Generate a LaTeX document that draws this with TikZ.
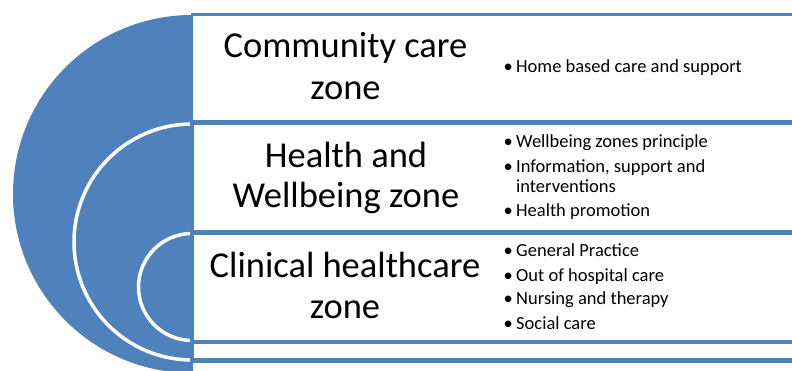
\documentclass[tikz,border=0pt]{standalone}
\usepackage{fontspec}
\setmainfont{Carlito}
\definecolor{zblue}{HTML}{4F81BD}
\begin{document}
\begin{tikzpicture}[x=1pt,y=-1pt,
  zoneframe/.style={draw=zblue,fill=white},
  ring/.style={draw=white,line width=3.5pt,fill=zblue},
  title/.style={anchor=base,inner sep=0pt,font=\fontsize{36.5}{41}\selectfont},
  item/.style={anchor=base west,inner sep=0pt,font=\fontsize{18.5}{21}\selectfont},
  dot/.style={anchor=base west,inner sep=0pt,font=\fontsize{18.5}{21}\selectfont}]
\useasboundingbox (0,0) rectangle (792,371);
\clip (0,0) rectangle (792,371);
% outer zone
\fill[zblue] (192,194) circle[radius=179];
\draw[zoneframe,line width=2.5pt] (192,14.5) rectangle (810,400);
% middle zone
\draw[ring] (192,242) circle[radius=118];
\draw[zoneframe,line width=4.5pt] (192,122.5) rectangle (810,360.5);
% inner zone
\draw[ring] (192,287) circle[radius=53.5];
\draw[zoneframe,line width=4.5pt] (192,232.5) rectangle (810,342);
% titles
\node[title] (c1) at (345.5,58) {Community care};
\node[title] (c2) at (345.5,100) {zone};
\node[title] (h1) at (346,168) {Health and};
\node[title] (h2) at (346,208) {Wellbeing zone};
\node[title] (k1) at (345,277) {Clinical healthcare};
\node[title] (k2) at (345,318) {zone};
% bullets
\foreach \y/\t [count=\i] in {73/Home based care and support,
  148/Wellbeing zones principle,
  173/{Information, support and},
  217/Health promotion,
  257/General Practice,
  281/Out of hospital care,
  305/Nursing and therapy,
  329/Social care}{
  \node[dot] (d\i) at (503.5,\y) {•};
  \node[item] (b\i) at (516,\y) {\t};
}
\node[item] (b3b) at (516,193) {interventions};
\end{tikzpicture}
\end{document}
